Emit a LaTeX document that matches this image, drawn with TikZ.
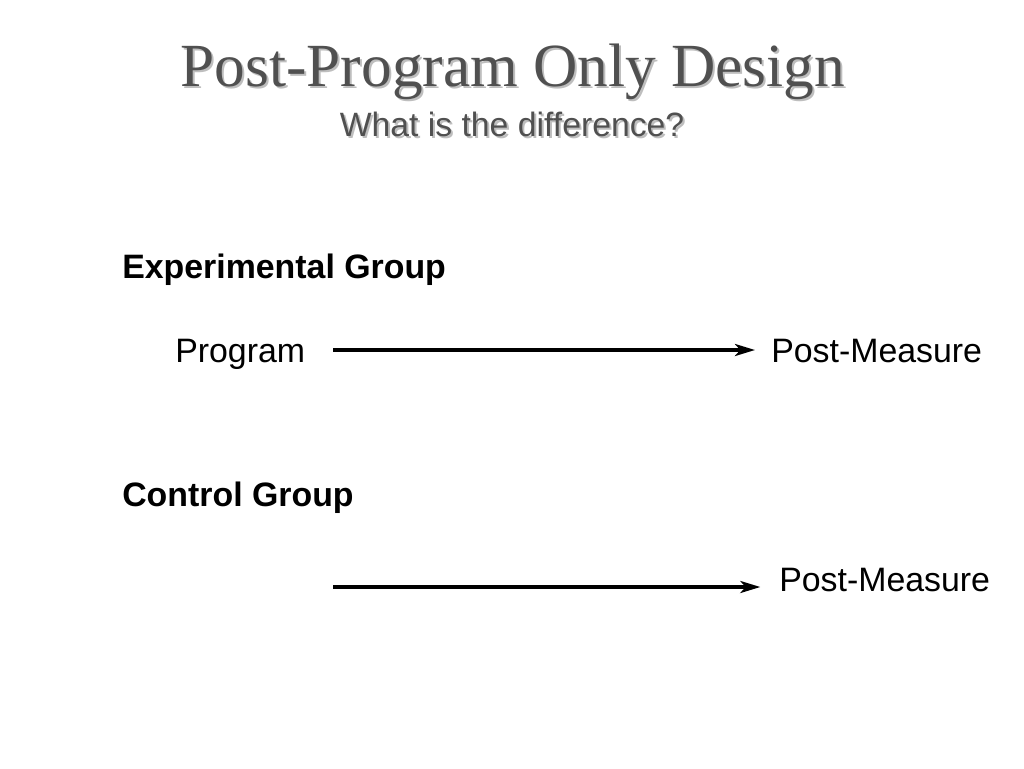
\documentclass[tikz,border=0pt]{standalone}
\usepackage{fontspec}
\setmainfont{Liberation Serif}
\setsansfont{Liberation Sans}
\usetikzlibrary{arrows.meta}
\definecolor{titlegray}{RGB}{80,80,80}
\definecolor{shadowgray}{RGB}{190,190,190}

\begin{document}
\begin{tikzpicture}[x=0.75pt, y=-0.75pt,
    title/.style={font=\fontsize{46}{50}\selectfont, inner sep=0pt, anchor=base},
    subtitle/.style={font=\sffamily\fontsize{25.3}{28}\selectfont, inner sep=0pt, anchor=base},
    group/.style={font=\sffamily\bfseries\fontsize{25.4}{28}\selectfont, inner sep=0pt, anchor=base west},
    textlabel/.style={font=\sffamily\fontsize{25.4}{28}\selectfont, inner sep=0pt, anchor=base west},
    flow/.style={line width=2.6pt, -{Stealth[length=15pt, width=9pt, inset=4pt]}}]
      \useasboundingbox (0,0) rectangle (1024,768);

      \node[title, text=shadowgray] (titleshadow) at (515,88) {Post-Program Only Design};
      \node[title, text=titlegray] (title) at (513,86) {Post-Program Only Design};
      \node[subtitle, text=shadowgray] (subshadow) at (514,138) {What is the difference?};
      \node[subtitle, text=titlegray] (sub) at (512,136) {What is the difference?};

      \node[group] (expgroup) at (122,278) {Experimental Group};
      \node[textlabel] (prog) at (175,362) {Program};
      \node[textlabel] (post1) at (771,362) {Post-Measure};

      \node[group] (ctrlgroup) at (122,506) {Control Group};
      \coordinate (ctrlstart) at (333,587);
      \node[textlabel] (post2) at (779,591) {Post-Measure};

      \draw[flow, shorten <=21pt, shorten >=12pt] (prog.east |- 0,350) -- (post1.west |- 0,350);
      \draw[flow, shorten >=14pt] (ctrlstart) -- (ctrlstart -| post2.west);
    \end{tikzpicture}
\end{document}
